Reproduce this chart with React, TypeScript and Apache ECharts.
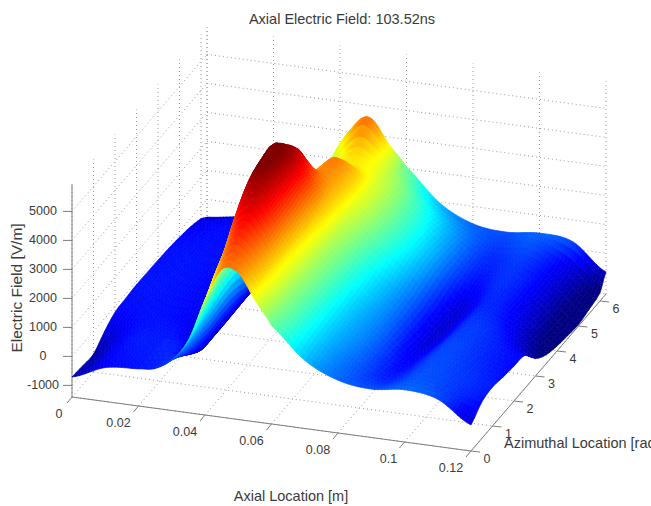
import React, { useEffect, useRef } from "react";
import * as echarts from "echarts";

const titleText = "Axial Electric Field: 103.52ns";
const xName = "Axial Location [m]";
const yName = "Azimuthal Location [rad]";
const zName = "Electric Field [V/m]";

const axialTicks = [0, 0.02, 0.04, 0.06, 0.08, 0.1, 0.12];
const azimuthTicks = [0, 1, 2, 3, 4, 5, 6];
const fieldTicks = [-1000, 0, 1000, 2000, 3000, 4000, 5000];

const axialGrid = [0, 0.01, 0.02, 0.025, 0.03, 0.035, 0.04, 0.045, 0.05, 0.055, 0.06, 0.07, 0.08, 0.09, 0.1, 0.11, 0.12];
const azimuthGrid = [0, 0.5, 1, 1.5, 2, 2.5, 3, 3.5, 4, 4.5, 5, 5.5, 6, 6.28];

// field values [V/m] along azimuth, one list per axial position
const ezAt000 = [-710, -750, -780, -450, -200, -150, -110, -120, -130, -150, -200, -280, -420, -610];
const ezAt010 = [-230, -200, -150, -150, -130, -130, -120, -120, -120, -130, -150, -180, -300, -450];
const ezAt020 = [-120, -80, -60, -120, -200, -200, -200, -200, -200, -200, -220, -250, -280, -400];
const ezAt025 = [-30, -20, -60, -300, -400, -400, -350, -350, -350, -350, -350, -350, -350, -400];
const ezAt030 = [350, 100, -250, -500, -500, -500, -500, -500, -500, -450, -450, -450, -450, -450];
const ezAt035 = [1100, 1300, 1600, 2000, 2200, 2200, 1900, 1300, 1000, 800, 600, 600, 700, 800];
const ezAt040 = [2565, 3100, 3600, 4350, 4900, 5100, 5100, 4200, 3200, 2700, 2300, 2200, 2400, 2400];
const ezAt045 = [3700, 4100, 4500, 4900, 5100, 5250, 5250, 4850, 3600, 3300, 2950, 2800, 3350, 3150];
const ezAt050 = [3650, 3800, 4000, 4200, 4300, 4400, 4450, 4050, 3700, 3750, 3100, 3250, 3850, 3400];
const ezAt055 = [2800, 3000, 3050, 3100, 3200, 3300, 3400, 3400, 3400, 3400, 3000, 3000, 3200, 2700];
const ezAt060 = [2000, 2150, 2200, 2300, 2350, 2400, 2500, 2600, 2750, 2750, 2650, 2500, 2200, 2050];
const ezAt070 = [950, 1050, 1100, 1150, 1200, 1300, 1400, 1600, 1750, 1800, 1750, 1550, 1150, 960];
const ezAt080 = [420, 400, 450, 500, 500, 520, 550, 650, 800, 850, 800, 700, 500, 400];
const ezAt090 = [270, 50, -100, -200, -300, -400, -450, -450, -400, -200, -50, 50, 180, 270];
const ezAt100 = [400, 300, 250, 220, 200, 150, 100, 50, 0, 50, 80, 120, 300, 390];
const ezAt110 = [230, 150, 130, 80, 30, 0, -100, -300, -400, -450, -450, -400, -300, 250];
const ezAt120 = [-500, -150, -60, -140, -200, -260, -800, -1100, -1230, -1300, -1350, -1250, -1120, -640];
const fieldColumns = [ezAt000, ezAt010, ezAt020, ezAt025, ezAt030, ezAt035, ezAt040, ezAt045, ezAt050, ezAt055, ezAt060, ezAt070, ezAt080, ezAt090, ezAt100, ezAt110, ezAt120];

// box limits and the view transform of the 3-D axes
const xLim = [0, 0.12];
const yLim = [0, 6.28];
const zLim = [-1400, 5930];
const colorLim = [-1000, 5300];
const view = { ox: 72, oy: 397, xx: 3325, xy: 450, yx: 21.5, yy: -25, zy: -0.029 };
const SUB_X = 10;
const SUB_Y = 3;

const project = (x: number, y: number, z: number): [number, number] => [
  view.ox + view.xx * x + view.yx * y,
  view.oy + view.xy * x + view.yy * y + view.zy * (z - zLim[0]),
];

const jet = (value: number) => {
  const t = Math.min(1, Math.max(0, (value - colorLim[0]) / (colorLim[1] - colorLim[0])));
  const ch = (c: number) => Math.round(255 * Math.min(1, Math.max(0, 1.5 - Math.abs(4 * t - c))));
  return `rgb(${ch(3)},${ch(2)},${ch(1)})`;
};

// smooth shading of the surface between the read values (Catmull-Rom, like shading interp)
const cr = (a: number, b: number, c: number, d: number, t: number) =>
  0.5 * (2 * b + (c - a) * t + (2 * a - 5 * b + 4 * c - d) * t * t + (3 * b - a - 3 * c + d) * t * t * t);
const clampI = (i: number, n: number) => Math.max(0, Math.min(n - 1, i));
const fieldAt = (u: number, v: number) => {
  const nu = axialGrid.length;
  const nv = azimuthGrid.length;
  const iu = Math.min(nu - 2, Math.floor(u));
  const iv = Math.min(nv - 2, Math.floor(v));
  const tu = u - iu;
  const tv = v - iv;
  const rows = [-1, 0, 1, 2].map((dv) => {
    const j = clampI(iv + dv, nv);
    return cr(
      fieldColumns[clampI(iu - 1, nu)][j],
      fieldColumns[clampI(iu, nu)][j],
      fieldColumns[clampI(iu + 1, nu)][j],
      fieldColumns[clampI(iu + 2, nu)][j],
      tu,
    );
  });
  return cr(rows[0], rows[1], rows[2], rows[3], tv);
};
const lerpAt = (arr: number[], u: number) => {
  const i = Math.min(arr.length - 2, Math.floor(u));
  return arr[i] + (arr[i + 1] - arr[i]) * (u - i);
};

const buildCells = () => {
  const cells: number[][] = [];
  const nu = (axialGrid.length - 1) * SUB_X;
  const nv = (azimuthGrid.length - 1) * SUB_Y;
  const vertex = (a: number, b: number) => {
    const u = a / SUB_X;
    const v = b / SUB_Y;
    return [lerpAt(axialGrid, u), lerpAt(azimuthGrid, v), fieldAt(u, v)];
  };
  // far to near: high azimuth first, low axial first
  for (let b = nv - 1; b >= 0; b--) {
    for (let a = 0; a < nu; a++) {
      cells.push([...vertex(a, b), ...vertex(a + 1, b), ...vertex(a + 1, b + 1), ...vertex(a, b + 1)]);
    }
  }
  return cells;
};

const gridSegments = () => {
  const segs: number[][] = [];
  const [x0, x1] = xLim;
  const [y0, y1] = yLim;
  const [z0, z1] = zLim;
  axialTicks.forEach((x) => {
    segs.push([x, y1, z0, x, y1, z1]);
    segs.push([x, y0, z0, x, y1, z0]);
  });
  azimuthTicks.forEach((y) => {
    segs.push([x0, y, z0, x0, y, z1]);
    segs.push([x0, y, z0, x1, y, z0]);
  });
  segs.push([x0, y1, z0, x0, y1, z1]);
  segs.push([x0, y1, z0, x1, y1, z0]);
  fieldTicks.forEach((z) => {
    segs.push([x0, y1, z, x1, y1, z]);
    segs.push([x0, y0, z, x0, y1, z]);
  });
  return segs;
};

const axisSegments = () => [
  [xLim[0], yLim[0], zLim[0], xLim[0], yLim[0], zLim[1], 0, 0],
  [xLim[0], yLim[0], zLim[0], xLim[1], yLim[0], zLim[0], 0, 0],
  [xLim[1], yLim[0], zLim[0], xLim[1], yLim[1], zLim[0], 0, 0],
  ...axialTicks.map((x) => [x, yLim[0], zLim[0], x, yLim[0], zLim[0], -5, 6]),
  ...azimuthTicks.map((y) => [xLim[1], y, zLim[0], xLim[1], y, zLim[0], 9, 1]),
  ...fieldTicks.map((z) => [xLim[0], yLim[0], z, xLim[0], yLim[0], z, -9, 0]),
];

const tickLabels = () => [
  ...axialTicks.map((x) => [x, yLim[0], zLim[0], x === 0 ? -13 : x === 0.1 ? -16 : -20, 17, String(x)]),
  ...azimuthTicks.map((y) => [xLim[1], y, zLim[0], 16, 8, String(y)]),
  ...fieldTicks.map((z) => [xLim[0], yLim[0], z, -29, 0, String(z)]),
];

const textColor = "#3a3a3a";
const labelFont = { fontFamily: "'Liberation Sans', Arial, sans-serif", fontSize: 12.5, fill: textColor };
const nameFont = { ...labelFont, fontSize: 14.5 };

export default function App() {
  const ref = useRef<HTMLDivElement>(null);
  useEffect(() => {
    const chart = echarts.init(ref.current!, null, { renderer: "svg" });
    const cells = buildCells();
    chart.setOption({
      animation: false,
      backgroundColor: "#fff",
      grid: { left: 0, right: 0, top: 0, bottom: 0 },
      xAxis: { type: "value", min: 0, max: 651, show: false },
      yAxis: { type: "value", min: 0, max: 506, inverse: true, show: false },
      title: {
        text: titleText,
        left: 337,
        top: 6,
        textAlign: "center",
        textStyle: { fontFamily: labelFont.fontFamily, fontSize: 14.5, fontWeight: "normal", color: textColor },
      },
      graphic: [
        { type: "text", x: 291, y: 496, style: { ...nameFont, text: xName, textAlign: "center", textVerticalAlign: "middle" } },
        { type: "text", x: 504, y: 443, style: { ...nameFont, text: yName, textAlign: "left", textVerticalAlign: "middle" } },
        { type: "text", x: 16, y: 288, rotation: Math.PI / 2, style: { ...nameFont, fontSize: 15.5, text: zName, textAlign: "center", textVerticalAlign: "middle" } },
      ],
      series: [
        {
          type: "custom",
          silent: true,
          progressive: 0,
          z: 1,
          data: gridSegments(),
          renderItem: (_p: any, api: any) => {
            const pa = api.coord(project(api.value(0), api.value(1), api.value(2)));
            const pb = api.coord(project(api.value(3), api.value(4), api.value(5)));
            return {
              type: "line",
              shape: { x1: pa[0], y1: pa[1], x2: pb[0], y2: pb[1] },
              style: { stroke: "#9a9a9a", lineWidth: 1, lineDash: [1, 3] },
            };
          },
        },
        {
          type: "custom",
          silent: true,
          progressive: 0,
          z: 2,
          data: axisSegments(),
          renderItem: (_p: any, api: any) => {
            const pa = api.coord(project(api.value(0), api.value(1), api.value(2)));
            const pb = api.coord(project(api.value(3), api.value(4), api.value(5)));
            return {
              type: "line",
              shape: { x1: pa[0], y1: pa[1], x2: pb[0] + api.value(6), y2: pb[1] + api.value(7) },
              style: { stroke: "#7d7d7d", lineWidth: 1 },
            };
          },
        },
        {
          type: "custom",
          silent: true,
          progressive: 0,
          z: 3,
          data: cells,
          renderItem: (_p: any, api: any) => {
            const pts: number[][] = [];
            let sum = 0;
            for (let k = 0; k < 4; k++) {
              const z = api.value(k * 3 + 2);
              sum += z;
              pts.push(api.coord(project(api.value(k * 3), api.value(k * 3 + 1), z)));
            }
            const c = jet(sum / 4);
            return { type: "polygon", shape: { points: pts }, style: { fill: c, stroke: c, lineWidth: 0.7 } };
          },
        },
        {
          type: "custom",
          silent: true,
          progressive: 0,
          z: 4,
          data: tickLabels(),
          dimensions: ["x", "y", "z", "dx", "dy", "label"],
          renderItem: (_p: any, api: any) => {
            const p = api.coord(project(api.value(0), api.value(1), api.value(2)));
            return {
              type: "text",
              x: p[0] + api.value(3),
              y: p[1] + api.value(4),
              style: { ...labelFont, text: String(api.value(5)), textAlign: "center", textVerticalAlign: "middle" },
            };
          },
        },
      ],
    });
    return () => chart.dispose();
  }, []);
  return <div ref={ref} style={{ position: "fixed", left: 0, top: 0, width: 651, height: 506 }} />;
}
